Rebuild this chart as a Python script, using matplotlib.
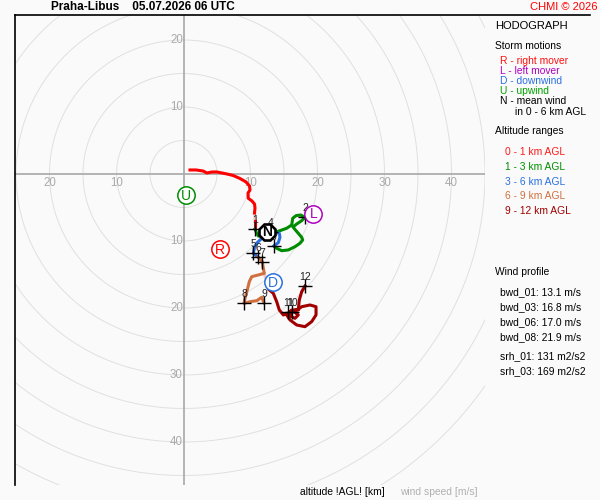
import numpy as np
import matplotlib.pyplot as plt
from matplotlib.lines import Line2D

plt.rcParams['font.family'] = ['Liberation Sans', 'DejaVu Sans']

station = "Praha-Libus"
run_time = "05.07.2026 06 UTC"

# hodograph, u / v components in m/s, split by altitude range
u_0_1 = [0.97, 1.87, 2.91, 3.51, 4.25, 5.0, 5.75, 6.49, 7.39, 8.43, 9.33, 9.85, 9.93,
         9.63, 9.67, 10.22, 10.6, 10.67, 10.6]
v_0_1 = [0.6, 0.6, 0.45, 0.15, 0.3, 0.3, 0.15, 0.0, -0.22, -0.67, -1.19, -1.79, -2.39,
         -2.84, -3.63, -4.03, -4.48, -5.07, -5.82]
u_0_1b = [10.67, 10.67]
v_0_1b = [-7.0, -8.21]

u_1_3 = [10.67, 10.82, 11.16, 11.82, 12.61, 13.66, 14.40, 15.40, 16.15, 16.30, 16.79, 17.49,
         18.13, 17.64, 16.90, 16.34, 16.64, 17.13, 17.64, 17.79, 17.39, 16.64, 15.64, 14.66,
         13.91, 13.51]
v_1_3 = [-8.21, -8.61, -9.25, -9.36, -8.96, -8.73, -8.46, -8.10, -7.61, -6.61, -6.22, -6.12,
         -6.46, -6.97, -7.46, -7.91, -8.28, -8.85, -9.45, -9.85, -10.34, -10.85, -11.34, -11.45,
         -11.09, -10.75]

u_3_6 = [13.51, 14.15, 14.40, 14.30, 13.06, 11.91, 11.42, 11.01, 10.60, 10.42, 11.12]
v_3_6 = [-10.75, -10.25, -9.45, -8.85, -8.66, -9.45, -9.85, -10.25, -10.90, -11.84, -12.39]

u_6_9 = [11.12, 11.76, 11.91, 12.06, 11.16, 10.18, 9.82, 9.52, 9.18, 9.03, 9.93, 10.93,
         11.67, 12.01]
v_6_9 = [-12.39, -13.09, -14.07, -14.82, -15.07, -15.33, -16.07, -17.31, -18.55, -19.30,
         -19.06, -18.91, -18.40, -19.21]

u_9_12 = [12.81, 13.40, 13.91, 14.30, 14.90, 15.64, 16.39, 17.13, 17.64, 18.88, 19.78, 19.78,
          19.13, 18.13, 16.90, 15.90, 15.40, 16.15, 17.13, 16.64, 15.90, 16.19, 17.13, 17.28,
          17.64, 18.13]
v_9_12 = [-17.31, -17.81, -19.06, -20.30, -21.04, -20.79, -20.30, -20.19, -19.81, -19.55,
          -19.81, -21.04, -22.04, -22.79, -22.54, -21.79, -21.04, -20.30, -21.04, -21.54,
          -21.19, -20.55, -20.30, -18.81, -17.57, -16.72]

# faint (interpolated) pieces
faint_u = [[10.6, 10.67, 10.67], [11.01, 10.6, 10.9], [12.06, 12.31, 12.51, 12.81]]
faint_v = [[-5.82, -6.5, -7.0], [-10.25, -10.9, -11.2], [-14.82, -15.82, -16.82, -17.31]]

# km levels
lvl_km = [1, 2, 3, 4, 5, 6, 7, 8, 9, 10, 11, 12]
lvl_u = [10.67, 18.13, 13.51, 13.06, 10.42, 11.12, 11.76, 9.03, 12.01, 16.15, 15.64, 18.13]
lvl_v = [-8.21, -6.46, -10.75, -8.66, -11.84, -12.39, -13.09, -19.30, -19.21, -20.55, -20.55,
         -16.72]

# storm motions
sm_tag = ["U", "R", "L", "D", "N"]
sm_u = [0.3, 5.5, 19.4, 13.3, 12.5]
sm_v = [-3.2, -11.2, -5.9, -16.1, -8.6]
sm_col = ["#008c00", "#ff0000", "#b000c0", "#2a70e0", "black"]

rings = list(range(5, 60, 5))
x_ticks = [-20, -10, 10, 20, 30, 40]
y_ticks = [20, 10, -10, -20, -30, -40]

legend_storm = [("R - right mover", "#ff1010"), ("L - left mover", "#b000c0"),
                ("D - downwind", "#2a70e0"), ("U - upwind", "#00a000"),
                ("N - mean wind", "black")]
legend_alt = [("0 - 1 km AGL", "#ff1a1a"), ("1 - 3 km AGL", "#009000"),
              ("3 - 6 km AGL", "#2a70e0"), ("6 - 9 km AGL", "#d07040"),
              ("9 - 12 km AGL", "#a00000")]
profile = ["bwd_01: 13.1 m/s", "bwd_03: 16.8 m/s", "bwd_06: 17.0 m/s", "bwd_08: 21.9 m/s"]
helicity = ["srh_01: 131 m2/s2", "srh_03: 169 m2/s2"]

bg = "#fafafa"
fig = plt.figure(figsize=(6, 5), dpi=100, facecolor=bg)
ax = fig.add_axes([15 / 600, 15 / 500, 470 / 600, 470 / 500])
ax.set_facecolor(bg)
ax.set_xlim(-25.15, 45.0)
ax.set_ylim(-46.42, 23.73)
ax.axis("off")

t = np.linspace(0, 2 * np.pi, 721)
for r in rings:
    ax.plot(r * np.cos(t), r * np.sin(t), color="#e0e0e0", lw=0.7, zorder=1)
ax.axhline(0, color="#a8a8a8", lw=1.2, zorder=2)
ax.axvline(0, color="#a8a8a8", lw=1.2, zorder=2)
for x in x_ticks:
    ax.text(x, -1.35, str(abs(x)), ha="center", va="center", fontsize=8.3, color="#aaaaaa")
for y in y_ticks:
    ax.text(-0.1, y, str(abs(y)), ha="right", va="center", fontsize=8.3, color="#aaaaaa")

for fu, fv in zip(faint_u, faint_v):
    ax.plot(fu, fv, color="#f4c4c4", lw=2.2, zorder=3, solid_capstyle="round")
ax.plot(u_0_1, v_0_1, color="#ff0000", lw=2.2, zorder=4)
ax.plot(u_0_1b, v_0_1b, color="#ff0000", lw=2.2, zorder=4)
ax.plot(u_1_3, v_1_3, color="#008c00", lw=2.2, zorder=4)
ax.plot(u_3_6, v_3_6, color="#2a70e0", lw=2.2, zorder=4)
ax.plot(u_6_9, v_6_9, color="#d07040", lw=2.2, zorder=4)
ax.plot(u_9_12, v_9_12, color="#a00000", lw=2.2, zorder=4)

ax.plot(lvl_u, lvl_v, ls="none", marker="+", ms=9.5, mew=1, color="black", zorder=5)
for k, u, v in zip(lvl_km, lvl_u, lvl_v):
    ax.annotate(str(k), (u, v), xytext=(0, 6.5), textcoords="offset points",
                ha="center", va="center", fontsize=7.5, color="#222222", zorder=6)

for tag, u, v, c in zip(sm_tag, sm_u, sm_v, sm_col):
    bold = tag == "N"
    ax.plot(u, v, marker="8" if bold else "o", ms=12.5, mfc="white", mec=c,
            mew=1.9 if bold else 1.1, zorder=7)
    ax.text(u, v - 0.1, tag, ha="center", va="center", fontsize=10, color=c,
            fontweight="bold" if bold else "normal", zorder=8)

# frame lines
fig.add_artist(Line2D([15 / 600, 15 / 600], [15 / 500, 485 / 500], color="black", lw=1.2))
fig.add_artist(Line2D([15 / 600, 590 / 600], [485 / 500, 485 / 500], color="black", lw=1.2))


def put(x, y, s, **kw):
    fig.text(x / 600, 1 - y / 500, s, va="center", **kw)


put(143, 7, station + "    " + run_time, ha="center", fontsize=8.5, fontweight="bold")
put(597, 7, "CHMI © 2026", ha="right", fontsize=8, color="#ff0000")
put(495, 26, "HODOGRAPH", fontsize=8)
put(495, 46, "Storm motions", fontsize=7.4)
for i, (s, c) in enumerate(legend_storm):
    put(500, 61 + 10 * i, s, fontsize=7.4, color=c)
put(515, 112, "in 0 - 6 km AGL", fontsize=7.4)
put(495, 131, "Altitude ranges", fontsize=7.4)
for i, (s, c) in enumerate(legend_alt):
    put(505, 152 + 14.8 * i, s, fontsize=7.4, color=c)
put(495, 272, "Wind profile", fontsize=7.4)
for i, s in enumerate(profile):
    put(500, 292 + 15 * i, s, fontsize=7.4)
for i, s in enumerate(helicity):
    put(500, 356.5 + 14.5 * i, s, fontsize=7.4)
put(300, 492, "altitude !AGL! [km]", fontsize=7.4)
put(400, 492, "wind speed [m/s]", fontsize=7.4, color="#b0b0b0")

fig.savefig("out.png", dpi=100, facecolor=bg)
